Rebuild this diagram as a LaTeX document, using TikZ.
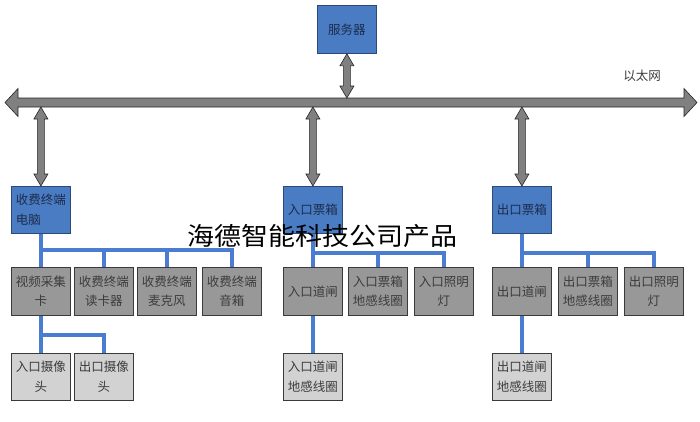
\documentclass[tikz,border=0pt]{standalone}
\usepackage{fontspec}
\setmainfont{Noto Sans CJK SC}
\usetikzlibrary{backgrounds,calc}
\pgfdeclarelayer{bottom}
\pgfsetlayers{bottom,background,main}
\definecolor{bxblue}{HTML}{4A7CC4}
\definecolor{bxblueline}{HTML}{2B4A78}
\definecolor{lnblue}{HTML}{4A7CD2}
\definecolor{gmid}{HTML}{989898}
\definecolor{glight}{HTML}{D2D2D2}
\definecolor{gborder}{HTML}{3A3A3A}
\definecolor{txtblue}{HTML}{1C2C4C}
\definecolor{txtgray}{HTML}{3C3C3C}
\newcommand\vdar[2]{%
 \draw[dar] let \p1=(#1), \p2=(#2) in
  (\x1,\y1) -- (\x1+7pt,\y1-12pt) -- (\x1+3.5pt,\y1-12pt) -- (\x1+3.5pt,\y2+12pt)
  -- (\x1+7pt,\y2+12pt) -- (\x1,\y2) -- (\x1-7pt,\y2+12pt) -- (\x1-3.5pt,\y2+12pt)
  -- (\x1-3.5pt,\y1-12pt) -- (\x1-7pt,\y1-12pt) -- cycle;}
\newcommand\hdar[2]{%
 \draw[dar] let \p1=(#1), \p2=(#2) in
  (\x1,\y1) -- (\x1+13pt,\y1+14pt) -- (\x1+13pt,\y1+4.5pt) -- (\x2-13pt,\y1+4.5pt)
  -- (\x2-13pt,\y1+14pt) -- (\x2,\y1) -- (\x2-13pt,\y1-14pt) -- (\x2-13pt,\y1-4.5pt)
  -- (\x1+13pt,\y1-4.5pt) -- (\x1+13pt,\y1-14pt) -- cycle;}
\tikzset{
  cjk/.style={font=\fontsize{12.5}{19.5}\selectfont},
  basebox/.style={cjk, rectangle, anchor=north west, inner sep=0pt, align=center,
    minimum width=59pt, line width=0.8pt},
  topbox/.style={basebox, draw=bxblueline, fill=bxblue, text=txtblue, minimum height=47pt},
  midbox/.style={basebox, draw=gborder, fill=gmid, text=txtgray, minimum height=48pt},
  lowbox/.style={basebox, draw=gborder, fill=glight, text=txtgray, minimum height=47pt},
  dar/.style={fill=black!50, draw=black!85, line width=0.6pt, line join=miter},
  bl/.style={draw=lnblue, line width=3.6pt, line cap=rect},
}
\begin{document}
\begin{tikzpicture}[x=1pt,y=-1pt]
\useasboundingbox (0,0) rectangle (700,421);
\begin{pgfonlayer}{bottom}
\fill[white] (0,0) rectangle (700,421);
\end{pgfonlayer}

% top
\node[topbox, minimum height=48pt] (srv) at (317,5) {服务器};
\node[cjk, text=txtgray] (eth) at (642,76) {以太网};

% bus
\coordinate (busL) at (5,102.5);
\coordinate (busR) at (697,102.5);
\coordinate (busTop) at (0,98);
\coordinate (busBot) at (0,107);

% level 1
\node[topbox, align=left] (pc) at (11,186) {收费终端\\电脑};
\node[topbox] (inbox) at (283,186) {入口票箱};
\node[topbox] (outbox) at (492,186) {出口票箱};

% level 2
\node[midbox] (video) at (11,267) {视频采集\\卡};
\node[midbox] (reader) at (74,267) {收费终端\\读卡器};
\node[midbox] (mic) at (137,267) {收费终端\\麦克风};
\node[midbox] (spk) at (202,267) {收费终端\\音箱};
\node[midbox] (ingate) at (283,267) {入口道闸};
\node[midbox] (inloop) at (348,267) {入口票箱\\地感线圈};
\node[midbox] (inlight) at (414,267) {入口照明\\灯};
\node[midbox] (outgate) at (492,267) {出口道闸};
\node[midbox] (outloop) at (558,267) {出口票箱\\地感线圈};
\node[midbox] (outlight) at (624,267) {出口照明\\灯};

% level 3
\node[lowbox] (camin) at (11,353) {入口摄像\\头};
\node[lowbox] (camout) at (74,353) {出口摄像\\头};
\node[lowbox] (ingloop) at (283,353) {入口道闸\\地感线圈};
\node[lowbox] (outgloop) at (492,353) {出口道闸\\地感线圈};

\coordinate (jL) at (0,250);
\coordinate (jM) at (0,253);
\coordinate (jC) at (0,335);

\begin{scope}[on background layer]
  % left group
  \draw[bl] (pc.south) -- (video.north);
  \draw[bl] (video.north |- jL) -- (spk.north |- jL);
  \draw[bl] (reader.north |- jL) -- (reader.north);
  \draw[bl] (mic.north |- jL) -- (mic.north);
  \draw[bl] (spk.north |- jL) -- (spk.north);
  \draw[bl] (video.south) -- (camin.north);
  \draw[bl] (video.south |- jC) -| (camout.north);
  % middle group
  \draw[bl] (inbox.south) -- (ingate.north);
  \draw[bl] (ingate.north |- jM) -- (inlight.north |- jM);
  \draw[bl] (inloop.north |- jM) -- (inloop.north);
  \draw[bl] (inlight.north |- jM) -- (inlight.north);
  \draw[bl] (ingate.south) -- (ingloop.north);
  % right group
  \draw[bl] (outbox.south) -- (outgate.north);
  \draw[bl] (outgate.north |- jM) -- (outlight.north |- jM);
  \draw[bl] (outloop.north |- jM) -- (outloop.north);
  \draw[bl] (outlight.north |- jM) -- (outlight.north);
  \draw[bl] (outgate.south) -- (outgloop.north);
\end{scope}

% arrows
\hdar{busL}{busR}
\vdar{srv.south}{srv.south |- busTop}
\vdar{pc.north |- busBot}{pc.north}
\vdar{inbox.north |- busBot}{inbox.north}
\vdar{outbox.north |- busBot}{outbox.north}

% handwritten-looking overlay text
\node[font=\fontsize{25}{25}\selectfont, text=black, inner sep=0pt, xscale=1.08] (mark) at (322,236) {海德智能科技公司产品};
\end{tikzpicture}
\end{document}
